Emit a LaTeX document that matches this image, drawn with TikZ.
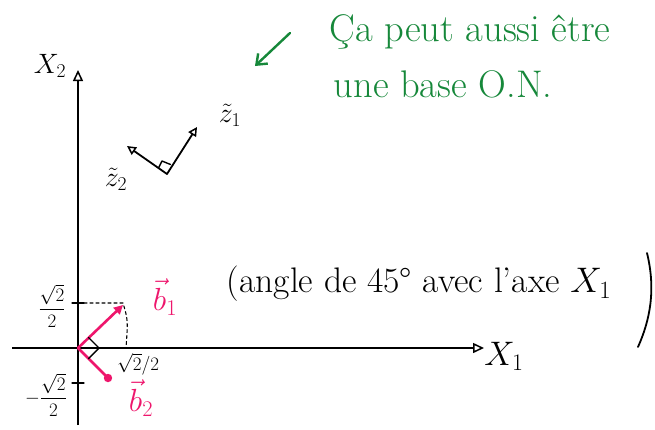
\RequirePackage{fix-cm}
\documentclass[tikz,border=0pt]{standalone}
\usepackage{fontspec}
\usetikzlibrary{arrows.meta}
\definecolor{pinkb}{RGB}{238,22,108}
\definecolor{greenn}{RGB}{22,136,58}
\begin{document}
\begin{tikzpicture}[x=1pt,y=-1pt,
  axis/.style={line width=1.3pt,-{Triangle[open,length=11pt,width=10pt,line width=1.5pt]}},
  ink/.style={line width=1.8pt,line cap=round,line join=round},
  pinkvec/.style={ink,pinkb,line width=2.6pt,-{Triangle[length=9pt,width=9pt]}},
  zvec/.style={ink,-{Triangle[open,length=9pt,width=9pt,line width=1.5pt]}},
  lab/.style={inner sep=0pt,font=\fontsize{32}{34}\selectfont},
  small/.style={inner sep=0pt,font=\fontsize{19}{20}\selectfont},
  note/.style={inner sep=0pt,text=greenn,font=\fontsize{38.5}{40}\selectfont},
  remark/.style={inner sep=0pt,font=\fontsize{35.5}{37}\selectfont}]
\useasboundingbox (0,0) rectangle (655,429);
\fill[white] (0,0) rectangle (655,429);
% axes
\coordinate (O) at (78,348);
\coordinate (xs) at (12,348);
\coordinate (xe) at (484,348);
\coordinate (ys) at (78,425);
\coordinate (ye) at (78,70);
\draw[axis] (xs) -- (xe);
\draw[axis] (ys) -- (ye);
\node[lab,font=\fontsize{34}{36}\selectfont] (X1) at (504,356) {$X_{1}$};
\node[lab,font=\fontsize{28}{30}\selectfont] (X2) at (50,66) {$X_{2}$};
% ticks
\coordinate (ty1) at (78,303);
\coordinate (ty2) at (78,383);
\draw[ink,line width=1.2pt] (72,303) -- (84,303);
\draw[ink,line width=1.2pt] (72,383) -- (84,383);
% b vectors
\coordinate (b1) at (123,305);
\coordinate (b2) at (108,378);
\draw[ink,dashed,line width=1.1pt,dash pattern=on 3pt off 3pt] (ty1) -- (123,303) .. controls (128,320) .. (126,348);
\draw[pinkvec] (O) -- (b1);
\draw[ink,pinkb,line width=2.6pt] (O) -- (b2);
\fill[pinkb] (b2) circle (4.2pt);
\draw[ink,line width=1.4pt] (88.5,337.5) -- (99,348) -- (88.5,358.5);
\node[small] (s1) at (52,306) {$\displaystyle\frac{\sqrt{2}}{2}$};
\node[small] (s2) at (46,395) {$\displaystyle-\frac{\sqrt{2}}{2}$};
\node[small] (s3) at (138,364) {$\sqrt{2}/2$};
\node[lab,text=pinkb] (lb1) at (165,297) {$\vec{b}_1$};
\node[lab,text=pinkb] (lb2) at (141,398) {$\vec{b}_2$};
% z vectors
\coordinate (zo) at (167,174);
\coordinate (z1) at (197,127);
\coordinate (z2) at (127,146);
\draw[zvec] (zo) -- (z1);
\draw[zvec] (zo) -- (z2);
\draw[ink,line width=1.4pt] (158.5,168) -- (162,161) -- (170.5,164.5);
\node[lab,font=\fontsize{28}{30}\selectfont] (lz1) at (230,115) {$\tilde{z}_1$};
\node[lab,font=\fontsize{28}{30}\selectfont] (lz2) at (116,179) {$\tilde{z}_2$};
% green note
\coordinate (ga) at (290,33);
\coordinate (gb) at (255,66);
\draw[ink,greenn,line width=2.4pt,-{Straight Barb[length=9pt,width=14pt,line width=2.4pt]}] (ga) -- (gb);
\node[note] (n1) at (470,32) {Ça peut aussi être};
\node[note] (n2) at (443,84) {une base O.N.};
% remark
\node[remark] (rm) at (419,284) {(angle de 45° avec l'axe $X_1$};
\draw[ink,line width=1.8pt] (647,253) .. controls (656,290) and (650,320) .. (638,347);
\end{tikzpicture}
\end{document}
